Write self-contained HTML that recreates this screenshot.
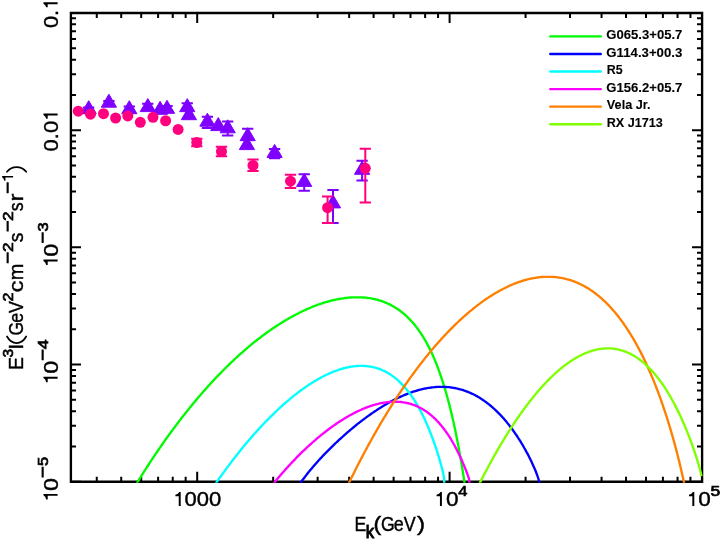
<!DOCTYPE html>
<html><head><meta charset="utf-8"><title>chart</title>
<style>
html,body{margin:0;padding:0;background:#fff;}
svg{display:block;will-change:transform;filter:blur(0.3px);}
text{font-family:"Liberation Sans",sans-serif;fill:#000;stroke:#000;stroke-width:0.4px;}
</style></head><body>
<svg width="721" height="540" viewBox="0 0 721 540">
<rect x="0" y="0" width="721" height="540" fill="#fff"/>
<path d="M70.9,13.0H702.1V481.7H70.9Z" fill="none" stroke="#000" stroke-width="2.35" stroke-linejoin="miter"/>
<path d="M96.76,481.7v-5M96.76,13.0v5M121.22,481.7v-5M121.22,13.0v5M141.21,481.7v-5M141.21,13.0v5M158.10,481.7v-5M158.10,13.0v5M172.74,481.7v-5M172.74,13.0v5M185.65,481.7v-5M185.65,13.0v5M197.20,481.7v-10M197.20,13.0v10M273.18,481.7v-5M273.18,13.0v5M317.63,481.7v-5M317.63,13.0v5M349.16,481.7v-5M349.16,13.0v5M373.62,481.7v-5M373.62,13.0v5M393.61,481.7v-5M393.61,13.0v5M410.50,481.7v-5M410.50,13.0v5M425.14,481.7v-5M425.14,13.0v5M438.05,481.7v-5M438.05,13.0v5M449.60,481.7v-10M449.60,13.0v10M525.58,481.7v-5M525.58,13.0v5M570.03,481.7v-5M570.03,13.0v5M601.56,481.7v-5M601.56,13.0v5M626.02,481.7v-5M626.02,13.0v5M646.01,481.7v-5M646.01,13.0v5M662.90,481.7v-5M662.90,13.0v5M677.54,481.7v-5M677.54,13.0v5M690.45,481.7v-5M690.45,13.0v5M702.00,481.7v-10M702.00,13.0v10M71.0,481.70h10M702.0,481.70h-10M71.0,446.43h5M702.0,446.43h-5M71.0,425.79h5M702.0,425.79h-5M71.0,411.15h5M702.0,411.15h-5M71.0,399.80h5M702.0,399.80h-5M71.0,390.52h5M702.0,390.52h-5M71.0,382.68h5M702.0,382.68h-5M71.0,375.88h5M702.0,375.88h-5M71.0,369.89h5M702.0,369.89h-5M71.0,364.52h10M702.0,364.52h-10M71.0,329.25h5M702.0,329.25h-5M71.0,308.62h5M702.0,308.62h-5M71.0,293.98h5M702.0,293.98h-5M71.0,282.62h5M702.0,282.62h-5M71.0,273.35h5M702.0,273.35h-5M71.0,265.50h5M702.0,265.50h-5M71.0,258.71h5M702.0,258.71h-5M71.0,252.71h5M702.0,252.71h-5M71.0,247.35h10M702.0,247.35h-10M71.0,212.08h5M702.0,212.08h-5M71.0,191.44h5M702.0,191.44h-5M71.0,176.80h5M702.0,176.80h-5M71.0,165.45h5M702.0,165.45h-5M71.0,156.17h5M702.0,156.17h-5M71.0,148.33h5M702.0,148.33h-5M71.0,141.53h5M702.0,141.53h-5M71.0,135.54h5M702.0,135.54h-5M71.0,130.18h10M702.0,130.18h-10M71.0,94.90h5M702.0,94.90h-5M71.0,74.27h5M702.0,74.27h-5M71.0,59.63h5M702.0,59.63h-5M71.0,48.27h5M702.0,48.27h-5M71.0,39.00h5M702.0,39.00h-5M71.0,31.15h5M702.0,31.15h-5M71.0,24.36h5M702.0,24.36h-5M71.0,18.36h5M702.0,18.36h-5M71.0,13.00h10M702.0,13.00h-10" fill="none" stroke="#000" stroke-width="2" stroke-linejoin="miter" stroke-linecap="butt"/>
<g transform="translate(197.20,506.1)"><path d="M-16.50,0.00V-14.16H-17.90Q-18.86,-12.00 -21.80,-11.40V-9.90H-18.46V0.00Z" fill="#000"/><text x="-12.76" y="0.00" font-size="20" textLength="36.70" lengthAdjust="spacingAndGlyphs">000</text></g><g transform="translate(449.60,506.1)"><path d="M-7.70,0.00V-14.16H-9.10Q-10.06,-12.00 -13.00,-11.40V-9.90H-9.66V0.00Z" fill="#000"/><text x="-3.68" y="0.00" font-size="20" textLength="12.54" lengthAdjust="spacingAndGlyphs">0</text><text x="8.74" y="-9.70" font-size="15.5" style="stroke-width:0.7px" textLength="9.14" lengthAdjust="spacingAndGlyphs">4</text></g><g transform="translate(702.00,506.1)"><path d="M-7.70,0.00V-14.16H-9.10Q-10.06,-12.00 -13.00,-11.40V-9.90H-9.66V0.00Z" fill="#000"/><text x="-3.68" y="0.00" font-size="20" textLength="12.54" lengthAdjust="spacingAndGlyphs">0</text><text x="8.40" y="-9.70" font-size="15.5" style="stroke-width:0.7px" textLength="9.72" lengthAdjust="spacingAndGlyphs">5</text></g>
<g transform="translate(57.6,13.00) rotate(-90)"><text x="-15.05" y="0.00" font-size="20" textLength="18.24" lengthAdjust="spacingAndGlyphs">0.</text><path d="M10.70,0.00V-14.16H9.30Q8.34,-12.00 5.70,-11.40V-9.90H8.74V0.00Z" fill="#000"/></g><g transform="translate(57.6,130.18) rotate(-90)"><text x="-21.31" y="0.00" font-size="20" textLength="30.60" lengthAdjust="spacingAndGlyphs">0.0</text><path d="M16.70,0.00V-14.16H15.30Q14.34,-12.00 11.40,-11.40V-9.90H14.74V0.00Z" fill="#000"/></g><g transform="translate(57.6,247.35) rotate(-90)"><path d="M-12.20,0.00V-14.16H-13.60Q-14.56,-12.00 -17.70,-11.40V-9.90H-14.16V0.00Z" fill="#000"/><text x="-9.30" y="0.00" font-size="20" textLength="12.89" lengthAdjust="spacingAndGlyphs">0</text><text x="3.75" y="-10.00" font-size="15.5" style="stroke-width:1.0px" textLength="11.27" lengthAdjust="spacingAndGlyphs">−</text><text x="15.78" y="-10.00" font-size="15.5" style="stroke-width:0.7px" textLength="9.13" lengthAdjust="spacingAndGlyphs">3</text></g><g transform="translate(57.6,364.52) rotate(-90)"><path d="M-12.20,0.00V-14.16H-13.60Q-14.56,-12.00 -17.70,-11.40V-9.90H-14.16V0.00Z" fill="#000"/><text x="-9.30" y="0.00" font-size="20" textLength="12.89" lengthAdjust="spacingAndGlyphs">0</text><text x="3.75" y="-10.00" font-size="15.5" style="stroke-width:1.0px" textLength="11.27" lengthAdjust="spacingAndGlyphs">−</text><text x="15.31" y="-10.00" font-size="15.5" style="stroke-width:0.7px" textLength="9.80" lengthAdjust="spacingAndGlyphs">4</text></g><g transform="translate(57.6,481.70) rotate(-90)"><path d="M-12.20,0.00V-14.16H-13.60Q-14.56,-12.00 -17.70,-11.40V-9.90H-14.16V0.00Z" fill="#000"/><text x="-9.30" y="0.00" font-size="20" textLength="12.89" lengthAdjust="spacingAndGlyphs">0</text><text x="3.75" y="-10.00" font-size="15.5" style="stroke-width:1.0px" textLength="11.27" lengthAdjust="spacingAndGlyphs">−</text><text x="15.74" y="-10.00" font-size="15.5" style="stroke-width:0.7px" textLength="9.13" lengthAdjust="spacingAndGlyphs">5</text></g>
<g transform="translate(0,531.0)"><text x="354.55" y="0.00" font-size="20" textLength="11.79" lengthAdjust="spacingAndGlyphs">E</text><text x="365.69" y="7.30" font-size="18.3" style="stroke-width:1.0px" textLength="8.28" lengthAdjust="spacingAndGlyphs">k</text><text x="373.55" y="0.00" font-size="20" textLength="7.76" lengthAdjust="spacingAndGlyphs">(</text><text x="381.11" y="0.00" font-size="20" textLength="13.69" lengthAdjust="spacingAndGlyphs">G</text><text x="393.85" y="0.00" font-size="20" textLength="9.94" lengthAdjust="spacingAndGlyphs">e</text><text x="403.63" y="0.00" font-size="20" textLength="11.94" lengthAdjust="spacingAndGlyphs">V</text><text x="417.08" y="0.00" font-size="20" textLength="8.14" lengthAdjust="spacingAndGlyphs">)</text></g>
<g transform="translate(22.7,368.1) rotate(-90)"><text x="-1.56" y="0.00" font-size="20" textLength="12.65" lengthAdjust="spacingAndGlyphs">E</text><text x="10.61" y="-9.60" font-size="15.5" style="stroke-width:0.7px" textLength="8.66" lengthAdjust="spacingAndGlyphs">3</text><text x="18.34" y="0.00" font-size="20" textLength="6.21" lengthAdjust="spacingAndGlyphs">I</text><text x="32.51" y="0.00" font-size="20" textLength="13.69" lengthAdjust="spacingAndGlyphs">G</text><text x="45.36" y="0.00" font-size="20" textLength="9.82" lengthAdjust="spacingAndGlyphs">e</text><text x="55.23" y="0.00" font-size="20" textLength="11.74" lengthAdjust="spacingAndGlyphs">V</text><text x="66.59" y="-9.60" font-size="15.5" style="stroke-width:0.7px" textLength="9.03" lengthAdjust="spacingAndGlyphs">2</text><text x="75.60" y="0.00" font-size="20" textLength="11.92" lengthAdjust="spacingAndGlyphs">c</text><text x="87.89" y="0.00" font-size="20" textLength="16.49" lengthAdjust="spacingAndGlyphs">m</text><text x="104.42" y="-9.60" font-size="15.5" style="stroke-width:1.0px" textLength="11.63" lengthAdjust="spacingAndGlyphs">−</text><text x="116.13" y="-9.60" font-size="15.5" style="stroke-width:0.7px" textLength="9.64" lengthAdjust="spacingAndGlyphs">2</text><text x="125.78" y="0.00" font-size="20" textLength="9.61" lengthAdjust="spacingAndGlyphs">s</text><text x="136.07" y="-9.60" font-size="15.5" style="stroke-width:1.0px" textLength="11.03" lengthAdjust="spacingAndGlyphs">−</text><text x="147.23" y="-9.60" font-size="15.5" style="stroke-width:0.7px" textLength="9.64" lengthAdjust="spacingAndGlyphs">2</text><text x="156.92" y="0.00" font-size="20" textLength="8.92" lengthAdjust="spacingAndGlyphs">s</text><text x="166.62" y="0.00" font-size="20" textLength="7.96" lengthAdjust="spacingAndGlyphs">r</text><text x="174.42" y="-9.60" font-size="15.5" style="stroke-width:1.0px" textLength="11.63" lengthAdjust="spacingAndGlyphs">−</text><path d="M192.00,-9.60V-20.57H190.91Q190.17,-18.90 187.40,-18.43V-17.27H190.48V-9.60Z" fill="#000"/><path d="M31.60,-15.7C22.80,-10.7 22.80,-1.5 31.60,3.5" fill="none" stroke="#000" stroke-width="1.75" stroke-linecap="round"/><path d="M196.40,-15.7C202.53,-10.7 202.53,-1.5 196.40,3.5" fill="none" stroke="#000" stroke-width="1.75" stroke-linecap="round"/></g>
<path d="M88.70,107.60V112.00M83.05,107.60h11.3M83.05,112.00h11.3" stroke="#7f00ff" stroke-width="2" fill="none"/>
<path d="M88.70,100.70L96.30,113.70H81.10Z" fill="#7f00ff" stroke="#7f00ff" stroke-width="1" stroke-linejoin="round"/>
<path d="M108.90,100.90V106.00M103.25,100.90h11.3M103.25,106.00h11.3" stroke="#7f00ff" stroke-width="2" fill="none"/>
<path d="M108.90,94.20L116.50,107.20H101.30Z" fill="#7f00ff" stroke="#7f00ff" stroke-width="1" stroke-linejoin="round"/>
<path d="M129.30,106.50V112.00M123.65,106.50h11.3M123.65,112.00h11.3" stroke="#7f00ff" stroke-width="2" fill="none"/>
<path d="M129.30,100.70L136.90,113.70H121.70Z" fill="#7f00ff" stroke="#7f00ff" stroke-width="1" stroke-linejoin="round"/>
<path d="M147.80,103.70V110.00M142.15,103.70h11.3M142.15,110.00h11.3" stroke="#7f00ff" stroke-width="2" fill="none"/>
<path d="M147.80,98.60L155.40,111.60H140.20Z" fill="#7f00ff" stroke="#7f00ff" stroke-width="1" stroke-linejoin="round"/>
<path d="M160.10,101.30L167.70,114.30H152.50Z" fill="#7f00ff" stroke="#7f00ff" stroke-width="1" stroke-linejoin="round"/>
<path d="M167.00,105.90V111.00M161.35,105.90h11.3M161.35,111.00h11.3" stroke="#7f00ff" stroke-width="2" fill="none"/>
<path d="M167.00,100.30L174.60,113.30H159.40Z" fill="#7f00ff" stroke="#7f00ff" stroke-width="1" stroke-linejoin="round"/>
<path d="M187.25,103.25V110.00M181.60,103.25h11.3M181.60,110.00h11.3" stroke="#7f00ff" stroke-width="2" fill="none"/>
<path d="M187.25,98.65L194.85,111.65H179.65Z" fill="#7f00ff" stroke="#7f00ff" stroke-width="1" stroke-linejoin="round"/>
<path d="M188.90,106.70L196.50,119.70H181.30Z" fill="#7f00ff" stroke="#7f00ff" stroke-width="1" stroke-linejoin="round"/>
<path d="M207.40,116.75V128.00M201.75,116.75h11.3M201.75,128.00h11.3" stroke="#7f00ff" stroke-width="2" fill="none"/>
<path d="M207.40,113.20L215.00,126.20H199.80Z" fill="#7f00ff" stroke="#7f00ff" stroke-width="1" stroke-linejoin="round"/>
<path d="M218.25,117.60L225.85,130.60H210.65Z" fill="#7f00ff" stroke="#7f00ff" stroke-width="1" stroke-linejoin="round"/>
<path d="M227.70,121.50V135.40M222.05,121.50h11.3M222.05,135.40h11.3" stroke="#7f00ff" stroke-width="2" fill="none"/>
<path d="M227.70,119.80L235.30,132.80H220.10Z" fill="#7f00ff" stroke="#7f00ff" stroke-width="1" stroke-linejoin="round"/>
<path d="M247.70,128.70V140.00M242.05,128.70h11.3M242.05,140.00h11.3" stroke="#7f00ff" stroke-width="2" fill="none"/>
<path d="M247.70,127.70L255.30,140.70H240.10Z" fill="#7f00ff" stroke="#7f00ff" stroke-width="1" stroke-linejoin="round"/>
<path d="M246.90,136.60L254.50,149.60H239.30Z" fill="#7f00ff" stroke="#7f00ff" stroke-width="1" stroke-linejoin="round"/>
<path d="M274.60,149.00V158.30M268.95,149.00h11.3M268.95,158.30h11.3" stroke="#7f00ff" stroke-width="2" fill="none"/>
<path d="M274.60,144.40L282.20,157.40H267.00Z" fill="#7f00ff" stroke="#7f00ff" stroke-width="1" stroke-linejoin="round"/>
<path d="M304.20,174.20V190.80M298.55,174.20h11.3M298.55,190.80h11.3" stroke="#7f00ff" stroke-width="2" fill="none"/>
<path d="M304.20,173.40L311.80,186.40H296.60Z" fill="#7f00ff" stroke="#7f00ff" stroke-width="1" stroke-linejoin="round"/>
<path d="M333.00,189.90V223.00M327.35,189.90h11.3M327.35,223.00h11.3" stroke="#7f00ff" stroke-width="2" fill="none"/>
<path d="M333.00,194.90L340.60,207.90H325.40Z" fill="#7f00ff" stroke="#7f00ff" stroke-width="1" stroke-linejoin="round"/>
<path d="M362.10,160.80V180.40M356.45,160.80h11.3M356.45,180.40h11.3" stroke="#7f00ff" stroke-width="2" fill="none"/>
<path d="M362.10,161.30L369.70,174.30H354.50Z" fill="#7f00ff" stroke="#7f00ff" stroke-width="1" stroke-linejoin="round"/>
<circle cx="78.25" cy="111.20" r="5.5" fill="#ff007f"/>
<circle cx="90.50" cy="114.20" r="5.5" fill="#ff007f"/>
<circle cx="103.50" cy="113.70" r="5.5" fill="#ff007f"/>
<circle cx="115.60" cy="118.00" r="5.5" fill="#ff007f"/>
<circle cx="127.80" cy="115.90" r="5.5" fill="#ff007f"/>
<circle cx="140.30" cy="122.30" r="5.5" fill="#ff007f"/>
<circle cx="153.00" cy="117.30" r="5.5" fill="#ff007f"/>
<circle cx="165.60" cy="120.75" r="5.5" fill="#ff007f"/>
<circle cx="178.10" cy="129.40" r="5.5" fill="#ff007f"/>
<path d="M196.80,138.80V146.20M191.15,138.80h11.3M191.15,146.20h11.3" stroke="#ff007f" stroke-width="2" fill="none"/>
<circle cx="196.80" cy="142.50" r="5.5" fill="#ff007f"/>
<path d="M221.50,146.80V156.25M215.85,146.80h11.3M215.85,156.25h11.3" stroke="#ff007f" stroke-width="2" fill="none"/>
<circle cx="221.50" cy="151.50" r="5.5" fill="#ff007f"/>
<path d="M253.00,159.60V171.10M247.35,159.60h11.3M247.35,171.10h11.3" stroke="#ff007f" stroke-width="2" fill="none"/>
<circle cx="253.00" cy="165.40" r="5.5" fill="#ff007f"/>
<path d="M290.50,174.70V188.00M284.85,174.70h11.3M284.85,188.00h11.3" stroke="#ff007f" stroke-width="2" fill="none"/>
<circle cx="290.50" cy="181.20" r="5.5" fill="#ff007f"/>
<path d="M327.60,196.50V223.00M321.95,196.50h11.3M321.95,223.00h11.3" stroke="#ff007f" stroke-width="2" fill="none"/>
<circle cx="327.60" cy="207.70" r="5.5" fill="#ff007f"/>
<path d="M365.30,148.70V202.40M359.65,148.70h11.3M359.65,202.40h11.3" stroke="#ff007f" stroke-width="2" fill="none"/>
<circle cx="365.30" cy="168.30" r="5.5" fill="#ff007f"/>
<defs><clipPath id="cp"><rect x="70.0" y="13.0" width="633.0" height="469.7"/></clipPath></defs>
<g clip-path="url(#cp)" fill="none" stroke-width="2.35" stroke-linejoin="round" stroke-linecap="butt">
<path d="M132.0,491.1L133.0,489.5L134.0,487.8L135.0,486.2L136.0,484.5L137.0,482.9L138.0,481.3L139.0,479.7L140.0,478.1L141.0,476.5L142.0,474.9L143.0,473.3L144.0,471.7L145.0,470.1L146.0,468.6L147.0,467.0L148.0,465.5L149.0,464.0L150.0,462.4L151.0,460.9L152.0,459.4L153.0,457.9L154.0,456.4L155.0,454.9L156.0,453.4L157.0,452.0L158.0,450.5L159.0,449.0L160.0,447.6L161.0,446.1L162.0,444.7L163.0,443.3L164.0,441.9L165.0,440.4L166.0,439.0L167.0,437.6L168.0,436.2L169.0,434.9L170.0,433.5L171.0,432.1L172.0,430.7L173.0,429.4L174.0,428.0L175.0,426.7L176.0,425.4L177.0,424.0L178.0,422.7L179.0,421.4L180.0,420.1L181.0,418.8L182.0,417.5L183.0,416.2L184.0,415.0L185.0,413.7L186.0,412.4L187.0,411.2L188.0,409.9L189.0,408.7L190.0,407.4L191.0,406.2L192.0,405.0L193.0,403.8L194.0,402.6L195.0,401.4L196.0,400.2L197.0,399.0L198.0,397.8L199.0,396.6L200.0,395.5L201.0,394.3L202.0,393.2L203.0,392.0L204.0,390.9L205.0,389.7L206.0,388.6L207.0,387.5L208.0,386.4L209.0,385.3L210.0,384.2L211.0,383.1L212.0,382.0L213.0,380.9L214.0,379.9L215.0,378.8L216.0,377.7L217.0,376.7L218.0,375.6L219.0,374.6L220.0,373.6L221.0,372.6L222.0,371.5L223.0,370.5L224.0,369.5L225.0,368.5L226.0,367.5L227.0,366.5L228.0,365.6L229.0,364.6L230.0,363.6L231.0,362.7L232.0,361.7L233.0,360.8L234.0,359.8L235.0,358.9L236.0,358.0L237.0,357.1L238.0,356.1L239.0,355.2L240.0,354.3L241.0,353.4L242.0,352.6L243.0,351.7L244.0,350.8L245.0,349.9L246.0,349.1L247.0,348.2L248.0,347.4L249.0,346.5L250.0,345.7L251.0,344.9L252.0,344.0L253.0,343.2L254.0,342.4L255.0,341.6L256.0,340.8L257.0,340.0L258.0,339.3L259.0,338.5L260.0,337.7L261.0,337.0L262.0,336.2L263.0,335.4L264.0,334.7L265.0,334.0L266.0,333.2L267.0,332.5L268.0,331.8L269.0,331.1L270.0,330.4L271.0,329.7L272.0,329.0L273.0,328.3L274.0,327.6L275.0,327.0L276.0,326.3L277.0,325.7L278.0,325.0L279.0,324.4L280.0,323.7L281.0,323.1L282.0,322.5L283.0,321.9L284.0,321.3L285.0,320.7L286.0,320.1L287.0,319.5L288.0,318.9L289.0,318.3L290.0,317.7L291.0,317.2L292.0,316.6L293.0,316.1L294.0,315.5L295.0,315.0L296.0,314.5L297.0,314.0L298.0,313.5L299.0,312.9L300.0,312.4L301.0,312.0L302.0,311.5L303.0,311.0L304.0,310.5L305.0,310.1L306.0,309.6L307.0,309.2L308.0,308.7L309.0,308.3L310.0,307.9L311.0,307.5L312.0,307.0L313.0,306.6L314.0,306.2L315.0,305.9L316.0,305.5L317.0,305.1L318.0,304.7L319.0,304.4L320.0,304.0L321.0,303.7L322.0,303.4L323.0,303.0L324.0,302.7L325.0,302.4L326.0,302.1L327.0,301.8L328.0,301.5L329.0,301.3L330.0,301.0L331.0,300.7L332.0,300.5L333.0,300.2L334.0,300.0L335.0,299.8L336.0,299.6L337.0,299.4L338.0,299.2L339.0,299.0L340.0,298.8L341.0,298.6L342.0,298.5L343.0,298.3L344.0,298.2L345.0,298.0L346.0,297.9L347.0,297.8L348.0,297.7L349.0,297.6L350.0,297.5L351.0,297.5L352.0,297.4L353.0,297.4L354.0,297.3L355.0,297.3L356.0,297.3L357.0,297.3L358.0,297.3L359.0,297.3L360.0,297.3L361.0,297.3L362.0,297.4L363.0,297.5L364.0,297.5L365.0,297.6L366.0,297.7L367.0,297.8L368.0,298.0L369.0,298.1L370.0,298.2L371.0,298.4L372.0,298.6L373.0,298.8L374.0,299.0L375.0,299.2L376.0,299.5L377.0,299.7L378.0,300.0L379.0,300.3L380.0,300.6L381.0,300.9L382.0,301.2L383.0,301.6L384.0,302.0L385.0,302.4L386.0,302.8L387.0,303.2L388.0,303.7L389.0,304.1L390.0,304.6L391.0,305.1L392.0,305.7L393.0,306.2L394.0,306.8L395.0,307.4L396.0,308.0L397.0,308.7L398.0,309.3L399.0,310.0L400.0,310.7L401.0,311.5L402.0,312.3L403.0,313.1L404.0,313.9L405.0,314.8L406.0,315.7L407.0,316.6L408.0,317.6L409.0,318.6L410.0,319.6L411.0,320.7L412.0,321.8L413.0,322.9L414.0,324.1L415.0,325.3L416.0,326.6L417.0,327.9L418.0,329.2L419.0,330.6L420.0,332.1L421.0,333.5L422.0,335.1L423.0,336.7L424.0,338.3L425.0,340.0L426.0,341.8L427.0,343.6L428.0,345.5L429.0,347.4L430.0,349.4L431.0,351.5L432.0,353.6L433.0,355.8L434.0,358.1L435.0,360.5L436.0,362.9L437.0,365.5L438.0,368.1L439.0,370.8L440.0,373.6L441.0,376.5L442.0,379.5L443.0,382.6L444.0,385.8L445.0,389.1L446.0,392.5L447.0,396.0L448.0,399.7L449.0,403.5L450.0,407.4L451.0,411.4L452.0,415.6L453.0,420.0L454.0,424.5L455.0,429.1L456.0,433.9L457.0,438.9L458.0,444.1L459.0,449.4L460.0,455.0L461.0,460.7L462.0,466.6L463.0,472.8L464.0,479.1L465.0,485.7L466.0,492.6L467.0,499.7" stroke="#00fa00"/>
<path d="M295.3,490.5L296.3,489.0L297.3,487.5L298.3,486.0L299.3,484.5L300.3,483.1L301.3,481.7L302.3,480.3L303.3,479.0L304.3,477.7L305.3,476.4L306.3,475.1L307.3,473.8L308.3,472.5L309.3,471.3L310.3,470.1L311.3,468.9L312.3,467.7L313.3,466.5L314.3,465.4L315.3,464.2L316.3,463.1L317.3,462.0L318.3,460.8L319.3,459.7L320.3,458.6L321.3,457.6L322.3,456.5L323.3,455.4L324.3,454.4L325.3,453.4L326.3,452.3L327.3,451.3L328.3,450.3L329.3,449.3L330.3,448.3L331.3,447.3L332.3,446.3L333.3,445.4L334.3,444.4L335.3,443.4L336.3,442.5L337.3,441.6L338.3,440.6L339.3,439.7L340.3,438.8L341.3,437.9L342.3,437.0L343.3,436.1L344.3,435.2L345.3,434.3L346.3,433.4L347.3,432.5L348.3,431.7L349.3,430.8L350.3,430.0L351.3,429.1L352.3,428.3L353.3,427.5L354.3,426.7L355.3,425.8L356.3,425.0L357.3,424.2L358.3,423.4L359.3,422.7L360.3,421.9L361.3,421.1L362.3,420.3L363.3,419.6L364.3,418.8L365.3,418.1L366.3,417.3L367.3,416.6L368.3,415.9L369.3,415.2L370.3,414.5L371.3,413.8L372.3,413.1L373.3,412.4L374.3,411.7L375.3,411.0L376.3,410.4L377.3,409.7L378.3,409.1L379.3,408.4L380.3,407.8L381.3,407.2L382.3,406.6L383.3,405.9L384.3,405.3L385.3,404.7L386.3,404.2L387.3,403.6L388.3,403.0L389.3,402.5L390.3,401.9L391.3,401.4L392.3,400.8L393.3,400.3L394.3,399.8L395.3,399.3L396.3,398.8L397.3,398.3L398.3,397.8L399.3,397.3L400.3,396.9L401.3,396.4L402.3,396.0L403.3,395.5L404.3,395.1L405.3,394.7L406.3,394.3L407.3,393.9L408.3,393.5L409.3,393.1L410.3,392.7L411.3,392.4L412.3,392.0L413.3,391.7L414.3,391.4L415.3,391.1L416.3,390.8L417.3,390.5L418.3,390.2L419.3,389.9L420.3,389.6L421.3,389.4L422.3,389.1L423.3,388.9L424.3,388.7L425.3,388.5L426.3,388.3L427.3,388.1L428.3,387.9L429.3,387.8L430.3,387.6L431.3,387.5L432.3,387.4L433.3,387.3L434.3,387.2L435.3,387.1L436.3,387.0L437.3,386.9L438.3,386.9L439.3,386.9L440.3,386.8L441.3,386.8L442.3,386.8L443.3,386.8L444.3,386.9L445.3,386.9L446.3,387.0L447.3,387.1L448.3,387.1L449.3,387.2L450.3,387.4L451.3,387.5L452.3,387.6L453.3,387.8L454.3,388.0L455.3,388.2L456.3,388.4L457.3,388.6L458.3,388.8L459.3,389.1L460.3,389.3L461.3,389.6L462.3,389.9L463.3,390.2L464.3,390.6L465.3,390.9L466.3,391.3L467.3,391.7L468.3,392.1L469.3,392.5L470.3,392.9L471.3,393.4L472.3,393.8L473.3,394.3L474.3,394.8L475.3,395.3L476.3,395.9L477.3,396.4L478.3,397.0L479.3,397.6L480.3,398.2L481.3,398.9L482.3,399.5L483.3,400.2L484.3,400.9L485.3,401.6L486.3,402.3L487.3,403.1L488.3,403.9L489.3,404.7L490.3,405.5L491.3,406.3L492.3,407.2L493.3,408.1L494.3,409.0L495.3,409.9L496.3,410.8L497.3,411.8L498.3,412.8L499.3,413.8L500.3,414.9L501.3,415.9L502.3,417.0L503.3,418.1L504.3,419.3L505.3,420.4L506.3,421.6L507.3,422.9L508.3,424.1L509.3,425.4L510.3,426.7L511.3,428.0L512.3,429.3L513.3,430.7L514.3,432.1L515.3,433.6L516.3,435.0L517.3,436.5L518.3,438.1L519.3,439.6L520.3,441.2L521.3,442.9L522.3,444.5L523.3,446.2L524.3,448.0L525.3,449.7L526.3,451.6L527.3,453.4L528.3,455.3L529.3,457.3L530.3,459.3L531.3,461.3L532.3,463.5L533.3,465.7L534.3,467.9L535.3,470.3L536.3,472.8L537.3,475.5L538.3,478.5L539.3,482.0L540.3,486.9" stroke="#0000ff"/>
<path d="M211.0,490.4L212.0,488.9L213.0,487.4L214.0,486.0L215.0,484.5L216.0,483.1L217.0,481.6L218.0,480.2L219.0,478.8L220.0,477.4L221.0,476.0L222.0,474.6L223.0,473.2L224.0,471.9L225.0,470.5L226.0,469.1L227.0,467.8L228.0,466.4L229.0,465.1L230.0,463.8L231.0,462.4L232.0,461.1L233.0,459.8L234.0,458.5L235.0,457.3L236.0,456.0L237.0,454.7L238.0,453.4L239.0,452.2L240.0,450.9L241.0,449.7L242.0,448.5L243.0,447.2L244.0,446.0L245.0,444.8L246.0,443.6L247.0,442.4L248.0,441.2L249.0,440.1L250.0,438.9L251.0,437.7L252.0,436.6L253.0,435.4L254.0,434.3L255.0,433.2L256.0,432.1L257.0,431.0L258.0,429.9L259.0,428.8L260.0,427.7L261.0,426.6L262.0,425.5L263.0,424.5L264.0,423.4L265.0,422.4L266.0,421.3L267.0,420.3L268.0,419.3L269.0,418.3L270.0,417.3L271.0,416.3L272.0,415.3L273.0,414.3L274.0,413.3L275.0,412.4L276.0,411.4L277.0,410.5L278.0,409.5L279.0,408.6L280.0,407.7L281.0,406.8L282.0,405.8L283.0,405.0L284.0,404.1L285.0,403.2L286.0,402.3L287.0,401.5L288.0,400.6L289.0,399.8L290.0,398.9L291.0,398.1L292.0,397.3L293.0,396.5L294.0,395.7L295.0,394.9L296.0,394.1L297.0,393.3L298.0,392.5L299.0,391.8L300.0,391.0L301.0,390.3L302.0,389.6L303.0,388.9L304.0,388.2L305.0,387.5L306.0,386.8L307.0,386.1L308.0,385.4L309.0,384.7L310.0,384.1L311.0,383.4L312.0,382.8L313.0,382.2L314.0,381.6L315.0,381.0L316.0,380.4L317.0,379.8L318.0,379.2L319.0,378.7L320.0,378.1L321.0,377.6L322.0,377.0L323.0,376.5L324.0,376.0L325.0,375.5L326.0,375.0L327.0,374.5L328.0,374.1L329.0,373.6L330.0,373.2L331.0,372.7L332.0,372.3L333.0,371.9L334.0,371.5L335.0,371.1L336.0,370.8L337.0,370.4L338.0,370.1L339.0,369.7L340.0,369.4L341.0,369.1L342.0,368.8L343.0,368.5L344.0,368.2L345.0,368.0L346.0,367.7L347.0,367.5L348.0,367.3L349.0,367.1L350.0,366.9L351.0,366.7L352.0,366.6L353.0,366.4L354.0,366.3L355.0,366.2L356.0,366.1L357.0,366.0L358.0,366.0L359.0,365.9L360.0,365.9L361.0,365.9L362.0,365.9L363.0,365.9L364.0,365.9L365.0,366.0L366.0,366.1L367.0,366.2L368.0,366.3L369.0,366.4L370.0,366.6L371.0,366.7L372.0,366.9L373.0,367.1L374.0,367.4L375.0,367.6L376.0,367.9L377.0,368.2L378.0,368.5L379.0,368.9L380.0,369.2L381.0,369.6L382.0,370.0L383.0,370.5L384.0,370.9L385.0,371.4L386.0,371.9L387.0,372.5L388.0,373.1L389.0,373.7L390.0,374.3L391.0,374.9L392.0,375.6L393.0,376.4L394.0,377.1L395.0,377.9L396.0,378.7L397.0,379.5L398.0,380.4L399.0,381.3L400.0,382.3L401.0,383.3L402.0,384.3L403.0,385.3L404.0,386.4L405.0,387.6L406.0,388.7L407.0,389.9L408.0,391.2L409.0,392.5L410.0,393.8L411.0,395.2L412.0,396.7L413.0,398.1L414.0,399.7L415.0,401.2L416.0,402.9L417.0,404.5L418.0,406.3L419.0,408.1L420.0,409.9L421.0,411.8L422.0,413.7L423.0,415.8L424.0,417.8L425.0,420.0L426.0,422.2L427.0,424.4L428.0,426.8L429.0,429.2L430.0,431.7L431.0,434.2L432.0,436.8L433.0,439.5L434.0,442.3L435.0,445.2L436.0,448.2L437.0,451.2L438.0,454.4L439.0,457.7L440.0,461.1L441.0,464.7L442.0,468.4L443.0,472.5L444.0,477.5L445.0,499.8" stroke="#00ffff"/>
<path d="M269.0,489.1L270.0,487.9L271.0,486.6L272.0,485.4L273.0,484.1L274.0,482.9L275.0,481.7L276.0,480.5L277.0,479.3L278.0,478.1L279.0,476.9L280.0,475.8L281.0,474.6L282.0,473.4L283.0,472.3L284.0,471.2L285.0,470.0L286.0,468.9L287.0,467.8L288.0,466.7L289.0,465.6L290.0,464.5L291.0,463.5L292.0,462.4L293.0,461.3L294.0,460.3L295.0,459.3L296.0,458.2L297.0,457.2L298.0,456.2L299.0,455.2L300.0,454.2L301.0,453.2L302.0,452.2L303.0,451.2L304.0,450.3L305.0,449.3L306.0,448.4L307.0,447.4L308.0,446.5L309.0,445.6L310.0,444.7L311.0,443.8L312.0,442.9L313.0,442.0L314.0,441.1L315.0,440.3L316.0,439.4L317.0,438.5L318.0,437.7L319.0,436.9L320.0,436.0L321.0,435.2L322.0,434.4L323.0,433.6L324.0,432.8L325.0,432.0L326.0,431.3L327.0,430.5L328.0,429.7L329.0,429.0L330.0,428.2L331.0,427.5L332.0,426.8L333.0,426.1L334.0,425.4L335.0,424.7L336.0,424.0L337.0,423.3L338.0,422.6L339.0,422.0L340.0,421.3L341.0,420.7L342.0,420.0L343.0,419.4L344.0,418.8L345.0,418.2L346.0,417.6L347.0,417.0L348.0,416.4L349.0,415.8L350.0,415.3L351.0,414.7L352.0,414.2L353.0,413.7L354.0,413.1L355.0,412.6L356.0,412.1L357.0,411.6L358.0,411.2L359.0,410.7L360.0,410.2L361.0,409.8L362.0,409.3L363.0,408.9L364.0,408.5L365.0,408.1L366.0,407.7L367.0,407.3L368.0,406.9L369.0,406.6L370.0,406.2L371.0,405.9L372.0,405.6L373.0,405.2L374.0,404.9L375.0,404.7L376.0,404.4L377.0,404.1L378.0,403.9L379.0,403.6L380.0,403.4L381.0,403.2L382.0,403.0L383.0,402.8L384.0,402.6L385.0,402.5L386.0,402.3L387.0,402.2L388.0,402.1L389.0,402.0L390.0,401.9L391.0,401.8L392.0,401.8L393.0,401.7L394.0,401.7L395.0,401.7L396.0,401.7L397.0,401.7L398.0,401.8L399.0,401.8L400.0,401.9L401.0,402.0L402.0,402.1L403.0,402.3L404.0,402.4L405.0,402.6L406.0,402.8L407.0,403.0L408.0,403.2L409.0,403.5L410.0,403.7L411.0,404.0L412.0,404.3L413.0,404.7L414.0,405.0L415.0,405.4L416.0,405.8L417.0,406.3L418.0,406.7L419.0,407.2L420.0,407.7L421.0,408.3L422.0,408.8L423.0,409.4L424.0,410.0L425.0,410.7L426.0,411.3L427.0,412.0L428.0,412.8L429.0,413.5L430.0,414.3L431.0,415.1L432.0,416.0L433.0,416.9L434.0,417.8L435.0,418.7L436.0,419.7L437.0,420.8L438.0,421.8L439.0,422.9L440.0,424.1L441.0,425.2L442.0,426.5L443.0,427.7L444.0,429.0L445.0,430.4L446.0,431.8L447.0,433.2L448.0,434.7L449.0,436.2L450.0,437.7L451.0,439.4L452.0,441.0L453.0,442.8L454.0,444.5L455.0,446.4L456.0,448.2L457.0,450.2L458.0,452.2L459.0,454.2L460.0,456.3L461.0,458.5L462.0,460.8L463.0,463.1L464.0,465.5L465.0,467.9L466.0,470.5L467.0,473.1L468.0,475.9L469.0,478.9L470.0,488.0L471.0,490.8L472.0,493.6" stroke="#ff00ff"/>
<path d="M343.5,494.4L344.5,492.3L345.5,490.2L346.5,488.1L347.5,486.0L348.5,483.9L349.5,481.8L350.5,479.8L351.5,477.8L352.5,475.7L353.5,473.7L354.5,471.7L355.5,469.7L356.5,467.7L357.5,465.8L358.5,463.8L359.5,461.9L360.5,460.0L361.5,458.0L362.5,456.1L363.5,454.2L364.5,452.3L365.5,450.5L366.5,448.6L367.5,446.8L368.5,444.9L369.5,443.1L370.5,441.3L371.5,439.5L372.5,437.7L373.5,435.9L374.5,434.1L375.5,432.4L376.5,430.6L377.5,428.9L378.5,427.2L379.5,425.4L380.5,423.7L381.5,422.0L382.5,420.4L383.5,418.7L384.5,417.0L385.5,415.4L386.5,413.7L387.5,412.1L388.5,410.5L389.5,408.9L390.5,407.3L391.5,405.7L392.5,404.1L393.5,402.5L394.5,401.0L395.5,399.4L396.5,397.9L397.5,396.4L398.5,394.9L399.5,393.4L400.5,391.9L401.5,390.4L402.5,388.9L403.5,387.4L404.5,386.0L405.5,384.5L406.5,383.1L407.5,381.7L408.5,380.2L409.5,378.8L410.5,377.4L411.5,376.1L412.5,374.7L413.5,373.3L414.5,372.0L415.5,370.6L416.5,369.3L417.5,367.9L418.5,366.6L419.5,365.3L420.5,364.0L421.5,362.7L422.5,361.4L423.5,360.2L424.5,358.9L425.5,357.6L426.5,356.4L427.5,355.2L428.5,353.9L429.5,352.7L430.5,351.5L431.5,350.3L432.5,349.1L433.5,348.0L434.5,346.8L435.5,345.6L436.5,344.5L437.5,343.3L438.5,342.2L439.5,341.1L440.5,340.0L441.5,338.9L442.5,337.8L443.5,336.7L444.5,335.6L445.5,334.6L446.5,333.5L447.5,332.5L448.5,331.4L449.5,330.4L450.5,329.4L451.5,328.4L452.5,327.4L453.5,326.4L454.5,325.4L455.5,324.4L456.5,323.4L457.5,322.5L458.5,321.5L459.5,320.6L460.5,319.7L461.5,318.8L462.5,317.8L463.5,316.9L464.5,316.1L465.5,315.2L466.5,314.3L467.5,313.4L468.5,312.6L469.5,311.7L470.5,310.9L471.5,310.1L472.5,309.3L473.5,308.4L474.5,307.7L475.5,306.9L476.5,306.1L477.5,305.3L478.5,304.6L479.5,303.8L480.5,303.1L481.5,302.3L482.5,301.6L483.5,300.9L484.5,300.2L485.5,299.5L486.5,298.8L487.5,298.1L488.5,297.5L489.5,296.8L490.5,296.2L491.5,295.5L492.5,294.9L493.5,294.3L494.5,293.7L495.5,293.1L496.5,292.5L497.5,291.9L498.5,291.4L499.5,290.8L500.5,290.3L501.5,289.7L502.5,289.2L503.5,288.7L504.5,288.2L505.5,287.7L506.5,287.2L507.5,286.7L508.5,286.2L509.5,285.8L510.5,285.3L511.5,284.9L512.5,284.5L513.5,284.1L514.5,283.7L515.5,283.3L516.5,282.9L517.5,282.5L518.5,282.2L519.5,281.8L520.5,281.5L521.5,281.2L522.5,280.8L523.5,280.5L524.5,280.2L525.5,280.0L526.5,279.7L527.5,279.4L528.5,279.2L529.5,278.9L530.5,278.7L531.5,278.5L532.5,278.3L533.5,278.1L534.5,277.9L535.5,277.8L536.5,277.6L537.5,277.5L538.5,277.4L539.5,277.2L540.5,277.1L541.5,277.0L542.5,277.0L543.5,276.9L544.5,276.8L545.5,276.8L546.5,276.8L547.5,276.8L548.5,276.8L549.5,276.8L550.5,276.8L551.5,276.8L552.5,276.9L553.5,276.9L554.5,277.0L555.5,277.1L556.5,277.2L557.5,277.3L558.5,277.5L559.5,277.6L560.5,277.8L561.5,277.9L562.5,278.1L563.5,278.3L564.5,278.6L565.5,278.8L566.5,279.1L567.5,279.3L568.5,279.6L569.5,279.9L570.5,280.2L571.5,280.5L572.5,280.9L573.5,281.2L574.5,281.6L575.5,282.0L576.5,282.4L577.5,282.8L578.5,283.3L579.5,283.7L580.5,284.2L581.5,284.7L582.5,285.2L583.5,285.7L584.5,286.3L585.5,286.9L586.5,287.4L587.5,288.0L588.5,288.6L589.5,289.3L590.5,289.9L591.5,290.6L592.5,291.3L593.5,292.0L594.5,292.8L595.5,293.5L596.5,294.3L597.5,295.1L598.5,295.9L599.5,296.7L600.5,297.6L601.5,298.4L602.5,299.3L603.5,300.3L604.5,301.2L605.5,302.2L606.5,303.1L607.5,304.1L608.5,305.2L609.5,306.2L610.5,307.3L611.5,308.4L612.5,309.5L613.5,310.7L614.5,311.8L615.5,313.0L616.5,314.3L617.5,315.5L618.5,316.8L619.5,318.1L620.5,319.4L621.5,320.7L622.5,322.1L623.5,323.5L624.5,325.0L625.5,326.4L626.5,327.9L627.5,329.4L628.5,331.0L629.5,332.5L630.5,334.1L631.5,335.8L632.5,337.4L633.5,339.1L634.5,340.9L635.5,342.6L636.5,344.4L637.5,346.2L638.5,348.1L639.5,350.0L640.5,351.9L641.5,353.9L642.5,355.9L643.5,357.9L644.5,360.0L645.5,362.1L646.5,364.2L647.5,366.4L648.5,368.7L649.5,370.9L650.5,373.2L651.5,375.6L652.5,378.0L653.5,380.4L654.5,382.9L655.5,385.4L656.5,388.0L657.5,390.6L658.5,393.2L659.5,395.9L660.5,398.7L661.5,401.5L662.5,404.4L663.5,407.3L664.5,410.3L665.5,413.3L666.5,416.4L667.5,419.5L668.5,422.8L669.5,426.0L670.5,429.4L671.5,432.8L672.5,436.3L673.5,439.8L674.5,443.4L675.5,447.1L676.5,450.9L677.5,454.8L678.5,458.8L679.5,462.9L680.5,467.0L681.5,471.3L682.5,475.7L683.5,480.2L684.5,484.8L685.5,489.6L686.5,494.5" stroke="#ff7f00"/>
<path d="M474.5,493.6L475.5,491.6L476.5,489.6L477.5,487.6L478.5,485.6L479.5,483.6L480.5,481.6L481.5,479.6L482.5,477.7L483.5,475.8L484.5,473.8L485.5,471.9L486.5,470.1L487.5,468.2L488.5,466.3L489.5,464.5L490.5,462.6L491.5,460.8L492.5,459.0L493.5,457.2L494.5,455.4L495.5,453.7L496.5,451.9L497.5,450.2L498.5,448.4L499.5,446.7L500.5,445.0L501.5,443.3L502.5,441.7L503.5,440.0L504.5,438.4L505.5,436.7L506.5,435.1L507.5,433.5L508.5,431.9L509.5,430.3L510.5,428.8L511.5,427.2L512.5,425.7L513.5,424.2L514.5,422.7L515.5,421.2L516.5,419.7L517.5,418.2L518.5,416.8L519.5,415.4L520.5,413.9L521.5,412.5L522.5,411.1L523.5,409.8L524.5,408.4L525.5,407.0L526.5,405.7L527.5,404.4L528.5,403.1L529.5,401.8L530.5,400.5L531.5,399.2L532.5,398.0L533.5,396.7L534.5,395.5L535.5,394.3L536.5,393.1L537.5,391.9L538.5,390.8L539.5,389.6L540.5,388.5L541.5,387.3L542.5,386.2L543.5,385.1L544.5,384.1L545.5,383.0L546.5,382.0L547.5,380.9L548.5,379.9L549.5,378.9L550.5,377.9L551.5,376.9L552.5,376.0L553.5,375.0L554.5,374.1L555.5,373.2L556.5,372.3L557.5,371.4L558.5,370.5L559.5,369.7L560.5,368.9L561.5,368.0L562.5,367.2L563.5,366.4L564.5,365.7L565.5,364.9L566.5,364.2L567.5,363.4L568.5,362.7L569.5,362.0L570.5,361.3L571.5,360.7L572.5,360.0L573.5,359.4L574.5,358.8L575.5,358.2L576.5,357.6L577.5,357.1L578.5,356.5L579.5,356.0L580.5,355.5L581.5,355.0L582.5,354.5L583.5,354.0L584.5,353.6L585.5,353.2L586.5,352.7L587.5,352.4L588.5,352.0L589.5,351.6L590.5,351.3L591.5,351.0L592.5,350.7L593.5,350.4L594.5,350.1L595.5,349.9L596.5,349.6L597.5,349.4L598.5,349.2L599.5,349.1L600.5,348.9L601.5,348.8L602.5,348.7L603.5,348.6L604.5,348.5L605.5,348.4L606.5,348.4L607.5,348.4L608.5,348.4L609.5,348.4L610.5,348.4L611.5,348.5L612.5,348.6L613.5,348.7L614.5,348.8L615.5,349.0L616.5,349.2L617.5,349.4L618.5,349.6L619.5,349.8L620.5,350.1L621.5,350.3L622.5,350.7L623.5,351.0L624.5,351.3L625.5,351.7L626.5,352.1L627.5,352.5L628.5,353.0L629.5,353.4L630.5,353.9L631.5,354.4L632.5,355.0L633.5,355.6L634.5,356.2L635.5,356.8L636.5,357.4L637.5,358.1L638.5,358.8L639.5,359.5L640.5,360.3L641.5,361.0L642.5,361.8L643.5,362.7L644.5,363.5L645.5,364.4L646.5,365.3L647.5,366.3L648.5,367.3L649.5,368.3L650.5,369.3L651.5,370.4L652.5,371.5L653.5,372.6L654.5,373.8L655.5,375.0L656.5,376.2L657.5,377.4L658.5,378.7L659.5,380.0L660.5,381.4L661.5,382.8L662.5,384.2L663.5,385.7L664.5,387.2L665.5,388.7L666.5,390.3L667.5,391.9L668.5,393.5L669.5,395.2L670.5,396.9L671.5,398.7L672.5,400.5L673.5,402.3L674.5,404.2L675.5,406.1L676.5,408.1L677.5,410.1L678.5,412.1L679.5,414.2L680.5,416.3L681.5,418.5L682.5,420.7L683.5,423.0L684.5,425.3L685.5,427.7L686.5,430.1L687.5,432.6L688.5,435.1L689.5,437.7L690.5,440.4L691.5,443.1L692.5,445.9L693.5,448.7L694.5,451.6L695.5,454.6L696.5,457.7L697.5,460.8L698.5,464.2L699.5,467.7L700.5,471.5L701.5,476.2" stroke="#7fff00"/>
</g>
<path d="M550.3,36.40H600.8" stroke="#00fa00" stroke-width="2.4" stroke-linecap="round" fill="none"/>
<g transform="translate(0,39.00)"><text x="606.36" y="0.00" font-size="13" font-weight="bold" style="stroke-width:0.1px" textLength="76.01" lengthAdjust="spacingAndGlyphs">G065.3+05.7</text></g>
<path d="M550.3,53.96H600.8" stroke="#0000ff" stroke-width="2.4" stroke-linecap="round" fill="none"/>
<g transform="translate(0,56.56)"><text x="606.36" y="0.00" font-size="13" font-weight="bold" style="stroke-width:0.1px" textLength="75.91" lengthAdjust="spacingAndGlyphs">G114.3+00.3</text></g>
<path d="M550.3,71.52H600.8" stroke="#00ffff" stroke-width="2.4" stroke-linecap="round" fill="none"/>
<g transform="translate(0,74.12)"><text x="606.68" y="0.00" font-size="13" font-weight="bold" style="stroke-width:0.1px" textLength="15.86" lengthAdjust="spacingAndGlyphs">R5</text></g>
<path d="M550.3,89.08H600.8" stroke="#ff00ff" stroke-width="2.4" stroke-linecap="round" fill="none"/>
<g transform="translate(0,91.68)"><text x="606.36" y="0.00" font-size="13" font-weight="bold" style="stroke-width:0.1px" textLength="76.01" lengthAdjust="spacingAndGlyphs">G156.2+05.7</text></g>
<path d="M550.3,106.64H600.8" stroke="#ff7f00" stroke-width="2.4" stroke-linecap="round" fill="none"/>
<g transform="translate(0,109.24)"><text x="606.82" y="0.00" font-size="13" font-weight="bold" style="stroke-width:0.1px" textLength="43.75" lengthAdjust="spacingAndGlyphs">Vela Jr.</text></g>
<path d="M550.3,124.20H600.8" stroke="#7fff00" stroke-width="2.4" stroke-linecap="round" fill="none"/>
<g transform="translate(0,126.80)"><text x="606.67" y="0.00" font-size="13" font-weight="bold" style="stroke-width:0.1px" textLength="56.17" lengthAdjust="spacingAndGlyphs">RX J1713</text></g>
</svg></body></html>
